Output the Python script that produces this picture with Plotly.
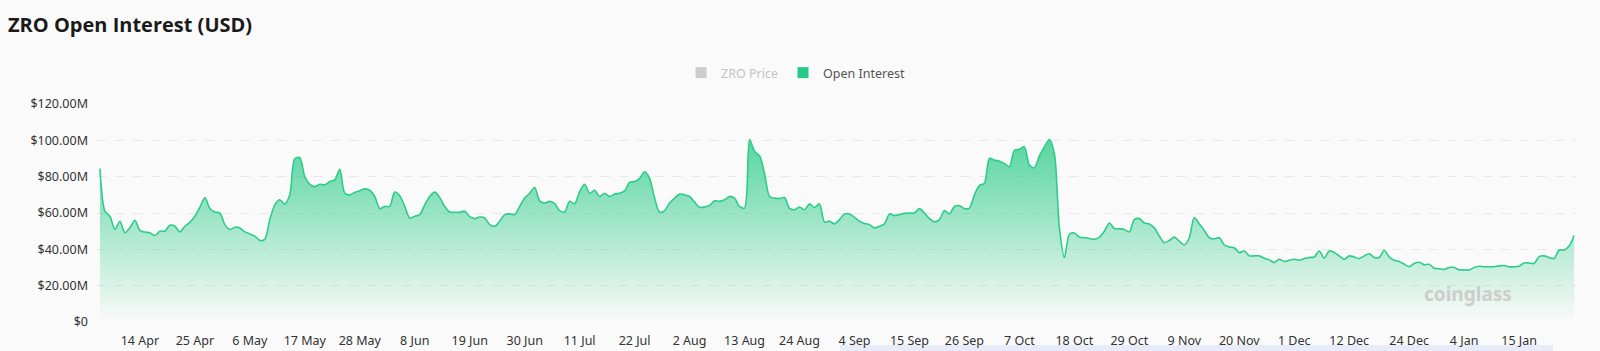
import pandas as pd
import plotly.graph_objects as go

# ---------------- data ----------------
start_date = "2025-04-06"          # first daily observation
oi_values_musd = [                 # Open Interest, millions of USD, one per day
    84.5, 61.0, 58.2, 50.9, 55.5, 49.1, 51.8, 56.0, 50.4, 49.5,
    49.1, 47.6, 50.0, 50.0, 53.3, 52.7, 49.6, 52.7, 54.9, 58.2,
    63.1, 68.5, 62.5, 60.5, 60.0, 53.6, 50.9, 52.2, 51.8, 49.6,
    48.5, 47.3, 44.9, 45.5, 56.4, 64.5, 67.3, 64.9, 70.0, 90.0,
    90.4, 80.0, 75.8, 74.5, 75.8, 75.5, 77.3, 78.2, 84.0, 70.9,
    70.0, 71.3, 72.2, 73.3, 72.5, 69.1, 62.4, 63.6, 63.6, 71.5,
    69.5, 63.6, 57.3, 58.2, 59.1, 64.5, 69.1, 71.5, 68.5, 63.6,
    60.5, 60.4, 60.4, 61.0, 58.0, 56.9, 57.8, 57.3, 53.6, 52.7,
    55.5, 59.1, 59.5, 59.1, 63.6, 68.2, 70.9, 74.0, 66.7, 65.5,
    66.4, 65.1, 61.3, 60.5, 66.4, 65.1, 71.8, 75.8, 70.9, 72.5,
    69.1, 70.9, 69.1, 70.4, 70.9, 72.2, 76.9, 77.3, 79.1, 82.7,
    79.1, 68.2, 60.5, 61.3, 65.5, 68.2, 70.4, 70.0, 69.1, 66.0,
    63.1, 63.3, 64.2, 66.7, 66.4, 67.3, 69.1, 68.2, 63.6, 62.7,
    100.5, 94.0, 91.5, 81.8, 69.1, 68.2, 68.0, 68.5, 62.5, 61.8,
    63.3, 61.8, 65.0, 63.0, 65.0, 55.0, 55.5, 54.0, 56.4, 59.5,
    59.5, 57.6, 55.5, 54.2, 53.6, 51.8, 52.7, 54.0, 59.5, 58.6,
    59.1, 59.8, 60.0, 60.0, 62.4, 60.0, 56.9, 55.1, 56.4, 61.3,
    59.5, 63.6, 64.0, 62.4, 62.7, 70.0, 75.1, 76.4, 90.0, 89.1,
    88.5, 87.3, 85.5, 94.5, 95.1, 96.4, 86.4, 84.9, 91.5, 96.4,
    100.5, 92.7, 51.8, 35.5, 48.2, 49.0, 46.7, 46.4, 46.0, 45.5,
    46.7, 50.0, 54.5, 51.5, 51.3, 50.9, 49.6, 56.4, 56.9, 54.5,
    54.0, 51.8, 47.3, 43.6, 44.9, 46.7, 44.5, 42.4, 46.4, 57.5,
    54.0, 50.4, 46.4, 45.8, 46.4, 42.4, 41.3, 40.9, 38.2, 39.1,
    36.4, 36.4, 36.4, 35.1, 34.2, 32.7, 34.5, 33.3, 34.0, 34.5,
    34.0, 34.9, 35.5, 35.8, 39.1, 35.1, 39.1, 38.2, 36.4, 34.5,
    36.4, 35.8, 34.9, 36.4, 37.6, 35.5, 35.5, 39.5, 35.8, 34.0,
    33.3, 31.8, 30.4, 32.2, 32.9, 31.5, 31.8, 29.6, 29.3, 28.9,
    30.0, 30.0, 28.7, 28.7, 28.6, 30.0, 30.7, 30.4, 30.4, 30.4,
    30.9, 31.1, 30.4, 30.4, 30.7, 32.5, 32.5, 32.2, 36.0, 36.4,
    35.5, 34.9, 39.6, 39.6, 41.8, 47.6,
]
x_tick_dates = [
    "2025-04-14", "2025-04-25", "2025-05-06", "2025-05-17", "2025-05-28",
    "2025-06-08", "2025-06-19", "2025-06-30", "2025-07-11", "2025-07-22",
    "2025-08-02", "2025-08-13", "2025-08-24", "2025-09-04", "2025-09-15",
    "2025-09-26", "2025-10-07", "2025-10-18", "2025-10-29", "2025-11-09",
    "2025-11-20", "2025-12-01", "2025-12-12", "2025-12-24", "2026-01-04",
    "2026-01-15",
]
x_tick_labels = [
    "14 Apr", "25 Apr", "6 May", "17 May", "28 May", "8 Jun", "19 Jun",
    "30 Jun", "11 Jul", "22 Jul", "2 Aug", "13 Aug", "24 Aug", "4 Sep",
    "15 Sep", "26 Sep", "7 Oct", "18 Oct", "29 Oct", "9 Nov", "20 Nov",
    "1 Dec", "12 Dec", "24 Dec", "4 Jan", "15 Jan",
]
y_tick_values = [0, 20, 40, 60, 80, 100, 120]
y_tick_labels = ["$0", "$20.00M", "$40.00M", "$60.00M", "$80.00M", "$100.00M", "$120.00M"]
series_names = ["ZRO Price", "Open Interest"]

# ---------------- figure ----------------
dates = pd.date_range(start_date, periods=len(oi_values_musd), freq="D")
GREEN = "rgb(46,204,138)"
BG = "#fafafa"
FONT = "Noto Sans"

fig = go.Figure()
fig.add_trace(go.Scatter(
    x=dates, y=oi_values_musd, mode="lines",
    line=dict(color=GREEN, width=1.6, shape="spline", smoothing=0.8),
    fill="tozeroy",
    fillgradient=dict(type="vertical", start=0, stop=max(oi_values_musd),
                      colorscale=[[0.0, "rgba(46,204,138,0.0)"],
                                  [1.0, "rgba(46,204,138,0.80)"]]),
    showlegend=False, hoverinfo="x+y",
))
# legend entries
fig.add_trace(go.Scatter(
    x=[None], y=[None], mode="markers",
    marker=dict(symbol="square", size=11, color="#cccccc"),
    name="<span style='color:#c4c4c4'>" + series_names[0] + "</span>",
))
fig.add_trace(go.Scatter(
    x=[None], y=[None], mode="markers",
    marker=dict(symbol="square", size=11, color="#27c98a"),
    name=series_names[1],
))

x_pad = pd.Timedelta(hours=14)
fig.update_layout(
    width=1600, height=351,
    margin=dict(l=97, r=23, t=104, b=29, pad=0),
    paper_bgcolor=BG, plot_bgcolor=BG,
    font=dict(family=FONT, size=12, color="#333333"),
    title=dict(text="<b>ZRO Open Interest (USD)</b>",
               font=dict(family="Open Sans", size=20, color="#1a1a1a"),
               x=0.005, xanchor="left", xref="container",
               y=1 - 25 / 351, yanchor="middle", yref="container",
               automargin=False),
    legend=dict(orientation="h", x=0.472, xanchor="center",
                y=1 + (104 - 73) / 218, yanchor="middle",
                font=dict(family=FONT, size=12.5, color="#555555"),
                bgcolor="rgba(0,0,0,0)", itemclick=False),
    xaxis=dict(
        type="date", automargin=False,
        range=[dates[0] - x_pad, dates[-1] + x_pad],
        tickvals=x_tick_dates, ticktext=x_tick_labels,
        showgrid=False, zeroline=False, showline=False, ticks="",
        tickfont=dict(family=FONT, size=12.5, color="#333333"),
        ticklabelstandoff=9,
    ),
    yaxis=dict(
        range=[0, 120], automargin=False,
        tickvals=y_tick_values, ticktext=y_tick_labels,
        showgrid=True, gridcolor="#e8e8e8", griddash="dash", gridwidth=1,
        zeroline=False, showline=False, ticks="",
        tickfont=dict(family=FONT, size=12.5, color="#333333"),
        ticklabelstandoff=8,
    ),
    annotations=[dict(
        text="<b>coinglass</b>", xref="paper", yref="paper",
        x=(1468 - 97) / 1480, y=(322 - 294) / 218,
        xanchor="center", yanchor="middle", showarrow=False,
        font=dict(family=FONT, size=19, color="#cdcdcd"),
    )],
    shapes=[dict(
        type="rect", xref="paper", yref="paper", layer="below",
        x0=(840 - 97) / 1480, x1=(1553 - 97) / 1480,
        y0=(322 - 351) / 218, y1=(322 - 345) / 218,
        fillcolor="rgba(228,233,250,0.8)", line=dict(width=0),
    )],
)

fig.write_html("out.html")
